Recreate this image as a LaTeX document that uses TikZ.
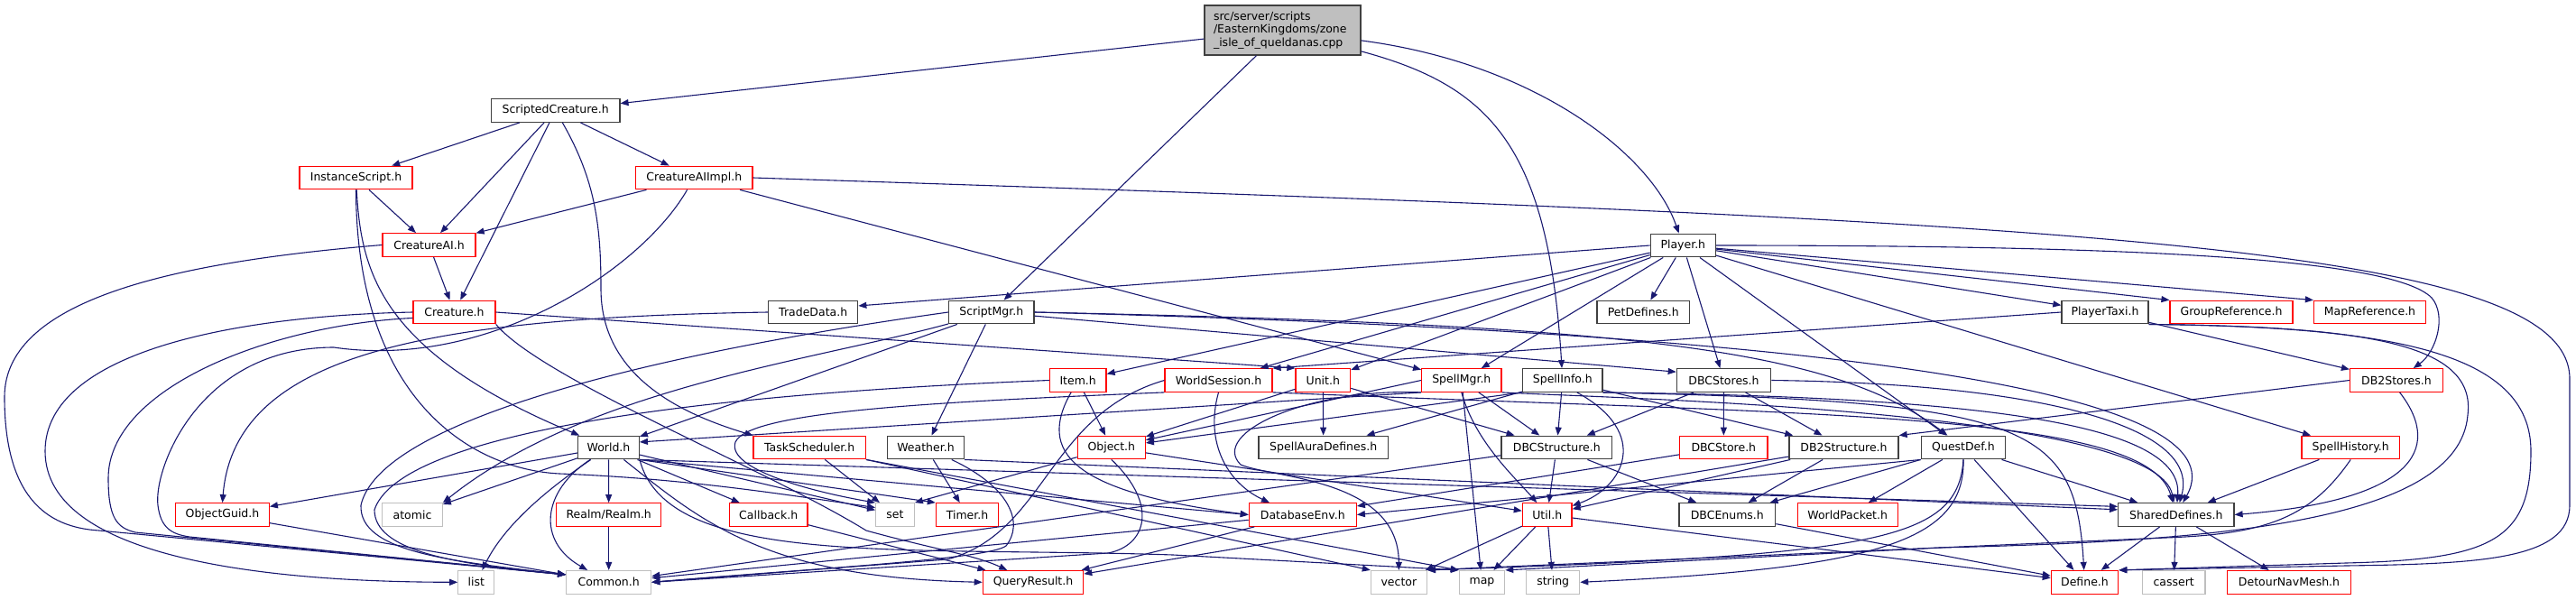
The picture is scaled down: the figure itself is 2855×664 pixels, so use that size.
\documentclass[tikz,border=0pt]{standalone}
\usepackage{fontspec}
\setmainfont{DejaVu Sans}
\usetikzlibrary{arrows.meta}
\definecolor{edgeblue}{HTML}{191970}
\definecolor{bordgray}{HTML}{BFBFBF}
\definecolor{rootfill}{HTML}{BFBFBF}
\definecolor{darkb}{HTML}{404040}
\definecolor{redb}{HTML}{FF0000}
\begin{document}
\begin{tikzpicture}[x=1pt,y=-1pt,
 nd/.style={rectangle, inner sep=0pt, minimum height=25.6pt, font=\fontsize{12.5pt}{14.5pt}\selectfont, fill=white},
 bn/.style={nd, draw=darkb, line width=1.3pt},
 rn/.style={nd, draw=redb, line width=1.2pt},
 gn/.style={nd, draw=bordgray, line width=1.2pt},
 ed/.style={draw=edgeblue, line width=1.1pt, -{Triangle[length=9pt,width=7pt]}}
]
\useasboundingbox (0,0) rectangle (2855,664);

\node[bn, fill=rootfill, minimum width=173pt, minimum height=55pt, text width=153pt, align=left] (root) at (1421.5,33.5) {src/server/scripts\\/EasternKingdoms/zone\\\_isle\_of\_queldanas.cpp};

\node[bn, minimum width=142.4pt] (SC) at (615.7,122.5) {ScriptedCreature.h};
\node[rn, minimum width=125pt] (IS) at (394.5,197) {InstanceScript.h};
\node[rn, minimum width=129.4pt] (CAII) at (769.3,197) {CreatureAIImpl.h};
\node[rn, minimum width=103pt] (CAI) at (475.5,271.5) {CreatureAI.h};
\node[bn, minimum width=72pt] (PL) at (1865.3,272) {Player.h};
\node[rn, minimum width=91pt] (CR) at (503.5,346) {Creature.h};
\node[bn, minimum width=99pt] (TD) at (901.2,346) {TradeData.h};
\node[bn, minimum width=94.3pt] (SM) at (1098.8,346) {ScriptMgr.h};
\node[bn, minimum width=102.7pt] (PD) at (1821.3,346) {PetDefines.h};
\node[bn, minimum width=96pt] (PT) at (2333,346) {PlayerTaxi.h};
\node[rn, minimum width=136pt] (GR) at (2473,346) {GroupReference.h};
\node[rn, minimum width=124pt] (MR) at (2626.5,346) {MapReference.h};
\node[rn, minimum width=62.7pt] (IT) at (1194.7,421.5) {Item.h};
\node[rn, minimum width=119pt] (WS) at (1350.5,421.5) {WorldSession.h};
\node[rn, minimum width=60.7pt] (UN) at (1466.3,421.5) {Unit.h};
\node[rn, minimum width=88.3pt] (SPM) at (1619.8,421.5) {SpellMgr.h};
\node[bn, minimum width=88.3pt] (SI) at (1731.8,421.5) {SpellInfo.h};
\node[bn, minimum width=104.4pt] (DS) at (1910.5,421.5) {DBCStores.h};
\node[rn, minimum width=103pt] (DB2S) at (2656,421.5) {DB2Stores.h};
\node[bn, minimum width=67.6pt] (WO) at (674.5,496) {World.h};
\node[rn, minimum width=124.3pt] (TS) at (897.2,496) {TaskScheduler.h};
\node[bn, minimum width=85pt] (WE) at (1026,496) {Weather.h};
\node[rn, minimum width=75pt] (OB) at (1231.8,496) {Object.h};
\node[bn, minimum width=143.3pt] (SAD) at (1466.7,496) {SpellAuraDefines.h};
\node[bn, minimum width=122.7pt] (DBCS) at (1725.3,496) {DBCStructure.h};
\node[rn, minimum width=97.3pt] (DBCSt) at (1910.3,496) {DBCStore.h};
\node[bn, minimum width=121pt] (DB2St) at (2043.5,496) {DB2Structure.h};
\node[bn, minimum width=93.4pt] (QD) at (2176,496) {QuestDef.h};
\node[rn, minimum width=108.5pt] (SH) at (2605.2,496) {SpellHistory.h};
\node[rn, minimum width=103.7pt] (OG) at (246.5,570.5) {ObjectGuid.h};
\node[gn, minimum width=66.6pt] (AT) at (457,570.5) {atomic};
\node[rn, minimum width=116pt] (RE) at (674.7,570.5) {Realm/Realm.h};
\node[rn, minimum width=86.7pt] (CB) at (851.7,570.5) {Callback.h};
\node[gn, minimum width=42.6pt] (SET) at (992,570.5) {set};
\node[rn, minimum width=69.2pt] (TI) at (1072,570.5) {Timer.h};
\node[rn, minimum width=119pt] (DE) at (1443.8,570.5) {DatabaseEnv.h};
\node[rn, minimum width=54.7pt] (UT) at (1714.7,570.5) {Util.h};
\node[bn, minimum width=106.7pt] (DBE) at (1914.3,570.5) {DBCEnums.h};
\node[rn, minimum width=111pt] (WP) at (2047.7,570.5) {WorldPacket.h};
\node[bn, minimum width=128.3pt] (SD) at (2411.8,570.5) {SharedDefines.h};
\node[gn, minimum width=40pt] (LI) at (527.8,645.3) {list};
\node[gn, minimum width=94pt] (CO) at (674.7,645.3) {Common.h};
\node[rn, minimum width=111.4pt] (QR) at (1145,645.3) {QueryResult.h};
\node[gn, minimum width=62pt] (VE) at (1550.4,645.3) {vector};
\node[gn, minimum width=50.4pt] (MA) at (1642.5,645.3) {map};
\node[gn, minimum width=59pt] (ST) at (1721.2,645.3) {string};
\node[rn, minimum width=74.4pt] (DF) at (2310.5,645.3) {Define.h};
\node[gn, minimum width=69.7pt] (CA) at (2409.2,645.3) {cassert};
\node[rn, minimum width=137pt] (DN) at (2537,645.3) {DetourNavMesh.h};

% root
\draw[ed] (root) -- (SC);
\draw[ed] (root) -- (SM);
\draw[ed] (root) .. controls (1650,95) and (1716,160) .. (SI);
\draw[ed] (root) .. controls (1700,70) and (1830,170) .. (PL);
% ScriptedCreature
\draw[ed] (SC) -- (IS);
\draw[ed] (SC) -- (CAI);
\draw[ed] (SC) -- (CR);
\draw[ed] (SC) -- (CAII);
\draw[ed] (SC) .. controls (660,200) and (666,250) .. (666,320) .. controls (666,420) and (760,460) .. (TS.north west);
% InstanceScript
\draw[ed] (IS) -- (CAI);
\draw[ed] (IS) .. controls (400,300) and (420,390) .. (WO);
\draw[ed] (IS) .. controls (395,440) and (520,520) .. (620,525) .. controls (750,530) and (850,545) .. (SET.160);
% CreatureAIImpl
\draw[ed] (CAII) -- (CAI);
\draw[ed] (CAII) -- (SPM);
\draw[ed] (CAII) .. controls (710,300) and (540,410) .. (370,385) .. controls (220,385) and (170,520) .. (175,560) .. controls (178,585) and (190,592) .. (210,595) -- (CO.170);
\draw[ed] (CAII.east) .. controls (2300,245) and (2848,270) .. (2848,420) -- (2848,560) .. controls (2848,620) and (2750,625) .. (2600,627) -- (DF.north east);
% CreatureAI
\draw[ed] (CAI) -- (CR);
\draw[ed] (CAI.west) .. controls (200,290) and (5,330) .. (5,440) .. controls (5,560) and (60,585) .. (110,588) -- (CO.170);
% Creature
\draw[ed] (CR.east) -- (UN.north west);
\draw[ed] (CR.west) .. controls (260,350) and (50,390) .. (50,500) .. controls (50,620) and (300,645) .. (LI.west);
\draw[ed] (CR.188) .. controls (300,360) and (120,430) .. (120,530) .. controls (120,575) and (130,585) .. (150,590) -- (CO.170);
\draw[ed] (CR.south east) .. controls (600,420) and (850,520) .. (960,588) .. controls (1040,610) and (1080,615) .. (QR);
% TradeData
\draw[ed] (TD.west) .. controls (480,352) and (260,390) .. (OG.north);
% ScriptMgr
\draw[ed] (SM) -- (WO);
\draw[ed] (SM) -- (WE);
\draw[ed] (SM) .. controls (900,400) and (650,430) .. (AT.north east);
\draw[ed] (SM.west) .. controls (700,395) and (420,470) .. (400,560) .. controls (398,612) and (500,622) .. (CO.170);
\draw[ed] (SM) -- (DS.170);
\draw[ed] (SM.east) .. controls (1800,360) and (2030,385) .. (QD);
\draw[ed] (SM.east) .. controls (2000,368) and (2490,430) .. (SD);
% Player
\draw[ed] (PL.west) -- (TD.8);
\draw[ed] (PL) -- (IT);
\draw[ed] (PL) -- (WS);
\draw[ed] (PL) -- (UN);
\draw[ed] (PL) -- (SPM);
\draw[ed] (PL) -- (PD);
\draw[ed] (PL) -- (DS);
\draw[ed] (PL) -- (QD);
\draw[ed] (PL) -- (PT);
\draw[ed] (PL) -- (GR.north west);
\draw[ed] (PL) -- (MR.north west);
\draw[ed] (PL.east) .. controls (2350,272) and (2650,285) .. (2695,330) .. controls (2712,350) and (2700,390) .. (DB2S);
\draw[ed] (PL) -- (SH);
% PlayerTaxi
\draw[ed] (PT.west) -- (WS.north east);
\draw[ed] (PT) -- (DB2S);
\draw[ed] (PT.south east) .. controls (2650,362) and (2805,390) .. (2805,500) .. controls (2805,600) and (2760,620) .. (2600,624) -- (DF.north east);
\draw[ed] (PT.south east) .. controls (2620,362) and (2745,380) .. (2735,460) .. controls (2725,580) and (2450,600) .. (2150,607) -- (MA.north east);
% DB2Stores
\draw[ed] (DB2S.west) -- (DB2St.north east);
\draw[ed] (DB2S.-75) .. controls (2710,500) and (2670,555) .. (SD.east);
% SpellHistory
\draw[ed] (SH) -- (SD);
\draw[ed] (SH.south) .. controls (2560,575) and (2510,592) .. (2400,596) -- (VE.north east);
% SpellInfo
\draw[ed] (SI) -- (DBCS);
\draw[ed] (SI.-40) .. controls (1830,480) and (1800,540) .. (UT);
\draw[ed] (SI) -- (SAD);
\draw[ed] (SI.south west) -- (OB);
\draw[ed] (SI) -- (DB2St);
\draw[ed] (SI.south east) .. controls (2200,440) and (2420,470) .. (SD);
\draw[ed] (SI.south east) .. controls (2250,445) and (2300,470) .. (DF);
% SpellMgr
\draw[ed] (SPM) -- (DBCS);
\draw[ed] (SPM.south) .. controls (1635,490) and (1680,530) .. (UT);
\draw[ed] (SPM) -- (MA);
\draw[ed] (SPM.south west) .. controls (1450,430) and (1340,480) .. (1375,515) .. controls (1410,530) and (1550,530) .. (VE);
\draw[ed] (SPM.west) -- (OB);
\draw[ed] (SPM.south west) -- (WO.10);
\draw[ed] (SPM.south east) .. controls (1800,442) and (2390,455) .. (SD);
% Unit
\draw[ed] (UN) -- (SAD);
\draw[ed] (UN) -- (OB);
\draw[ed] (UN) -- (DBCS);
% WorldSession
\draw[ed] (WS.south) .. controls (1335,490) and (1360,535) .. (DE.160);
\draw[ed] (WS.west) .. controls (1160,460) and (1160,590) .. (1050,620) -- (CO.east);
\draw[ed] (WS.south west) .. controls (1050,445) and (830,455) .. (815,490) .. controls (805,520) and (900,545) .. (SET.north west);
\draw[ed] (WS.south east) .. controls (2000,460) and (2380,455) .. (SD);
% Item
\draw[ed] (IT) -- (OB);
\draw[ed] (IT) .. controls (1150,500) and (1185,545) .. (DE.west);
\draw[ed] (IT.west) .. controls (700,440) and (440,490) .. (415,565) .. controls (415,610) and (500,625) .. (CO.170);
% Object
\draw[ed] (OB) -- (SET.north east);
\draw[ed] (OB.south) .. controls (1285,560) and (1270,605) .. (1228,613) -- (CO.east);
\draw[ed] (OB) -- (UT);
% Weather
\draw[ed] (WE) -- (TI);
\draw[ed] (WE) .. controls (1120,540) and (1135,580) .. (1115,605) .. controls (1095,620) and (900,630) .. (CO.east);
\draw[ed] (WE.south east) -- (SD.175);
% TaskScheduler
\draw[ed] (TS) -- (SET);
\draw[ed] (TS.south east) -- (VE.north west);
\draw[ed] (TS.south east) -- (MA.north west);
% World
\draw[ed] (WO) -- (OG);
\draw[ed] (WO) -- (AT);
\draw[ed] (WO) -- (RE);
\draw[ed] (WO) -- (CB);
\draw[ed] (WO) -- (SET);
\draw[ed] (WO.south east) -- (TI.north west);
\draw[ed] (WO) .. controls (600,545) and (595,600) .. (CO);
\draw[ed] (WO) .. controls (610,540) and (560,580) .. (LI);
\draw[ed] (WO) .. controls (780,580) and (850,640) .. (QR.west);
\draw[ed] (WO.south east) -- (DE.west);
\draw[ed] (WO.south east) -- (SD.172);
\draw[ed] (WO.south east) .. controls (740,630) and (1000,605) .. (1300,615) -- (MA.north west);
% lower rows
\draw[ed] (RE) -- (CO);
\draw[ed] (CB) -- (QR);
\draw[ed] (OG) -- (CO);
\draw[ed] (DE) -- (QR);
\draw[ed] (DE) -- (CO);
\draw[ed] (UT) -- (VE);
\draw[ed] (UT) -- (MA);
\draw[ed] (UT) -- (ST);
\draw[ed] (UT) -- (DF);
\draw[ed] (DBE) -- (DF);
\draw[ed] (SD) -- (DF);
\draw[ed] (SD) -- (CA);
\draw[ed] (SD) -- (DN);
\draw[ed] (DBCS) -- (UT);
\draw[ed] (DBCS) -- (DBE);
\draw[ed] (DBCS) -- (CO);
\draw[ed] (DBCSt) -- (DE);
\draw[ed] (DS) -- (DBCS);
\draw[ed] (DS) -- (DBCSt);
\draw[ed] (DS) -- (DB2St);
\draw[ed] (DS.east) .. controls (2250,425) and (2440,470) .. (SD);
\draw[ed] (DB2St) -- (DBE);
\draw[ed] (DB2St) -- (UT);
\draw[ed] (DB2St) -- (QR);
\draw[ed] (QD.south west) -- (DE.east);
\draw[ed] (QD.south west) -- (DBE);
\draw[ed] (QD) -- (WP);
\draw[ed] (QD) -- (SD);
\draw[ed] (QD) -- (DF);
\draw[ed] (QD.south) .. controls (2178,600) and (2080,630) .. (ST.east);
\draw[ed] (QD.south) .. controls (2170,600) and (2080,615) .. (VE.north east);
\end{tikzpicture}
\end{document}
